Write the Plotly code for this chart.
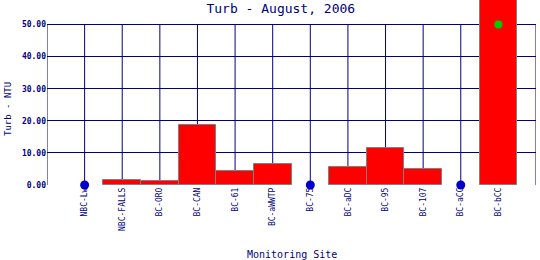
import plotly.graph_objects as go

sites = ["NBC-Lw", "NBC-FALLS", "BC-ORO", "BC-CAN", "BC-61", "BC-aWWTP",
         "BC-75", "BC-aDC", "BC-95", "BC-107", "BC-aCC", "BC-bCC"]
turb = [None, 1.5, 1.15, 18.6, 4.3, 6.45, None, 5.7, 11.6, 4.9, None, 60.0]
no_data_level = [0, None, None, None, None, None, 0, None, None, None, 0, None]
offscale_marker = [None] * 11 + [50.0]
y_ticks = [0, 10, 20, 30, 40, 50]
y_ticktext = ["%.2f" % v for v in y_ticks]

NAVY = "#000080"
FONT = "DejaVu Sans Mono"

xs = list(range(len(sites)))

fig = go.Figure()
fig.add_trace(go.Bar(x=xs, y=turb, width=1.0,
                     marker=dict(color="#FF0000", line=dict(color="#808080", width=1)),
                     showlegend=False))
fig.add_trace(go.Scatter(x=xs, y=no_data_level, mode="markers",
                         marker=dict(color="#0000CC", size=9),
                         cliponaxis=False, showlegend=False))
fig.add_trace(go.Scatter(x=xs, y=offscale_marker, mode="markers",
                         marker=dict(color="#00CC00", size=8),
                         cliponaxis=False, showlegend=False))

ytop = y_ticks[-1]
# vertical grid lines at each category plus frame edges
for xv in [-1] + xs + [len(sites)]:
    fig.add_shape(type="line", xref="x", yref="y", x0=xv, x1=xv, y0=0, y1=ytop,
                  line=dict(color=NAVY, width=1), layer="below")

fig.update_layout(
    width=540, height=260,
    margin=dict(l=47, r=4, t=0, b=75),
    paper_bgcolor="white", plot_bgcolor="white",
    bargap=0,
    title=dict(text="Turb - August, 2006", x=0.52, xref="container", xanchor="center",
               y=1 - 8 / 260, yref="container", yanchor="middle",
               font=dict(family=FONT, size=13, color=NAVY)),
    xaxis=dict(range=[-1, len(sites)], tickvals=xs, ticktext=sites, tickangle=-90,
               showgrid=False, zeroline=False, showline=False, ticks="",
               tickfont=dict(family=FONT, size=8, color=NAVY)),
    yaxis=dict(range=[0, 50 * 185 / (185 - 24.5)], tickvals=y_ticks, ticktext=y_ticktext,
               showgrid=True, gridcolor=NAVY, gridwidth=1, zeroline=False, showline=False,
               ticks="", ticklabelstandoff=0,
               tickfont=dict(family=FONT, size=8, color=NAVY, weight="bold")),
    annotations=[
        dict(text="Monitoring Site", xref="paper", yref="paper", x=0.5, y=-(254 - 185) / 185,
             xanchor="center", yanchor="middle", showarrow=False,
             font=dict(family=FONT, size=10, color=NAVY)),
        dict(text="Turb - NTU", xref="paper", yref="paper", x=(8 - 47) / 489, y=1 - 109 / 185,
             xanchor="center", yanchor="middle", textangle=-90, showarrow=False,
             font=dict(family=FONT, size=9, color=NAVY)),
    ],
)

fig.write_html("out.html")
